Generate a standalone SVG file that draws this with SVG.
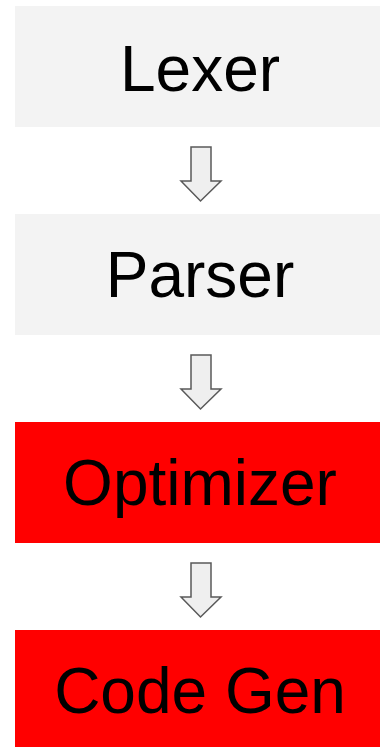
<svg xmlns="http://www.w3.org/2000/svg" width="380" height="747" viewBox="0 0 380 747">
<style>
.gray{fill:#f3f3f3}
.red{fill:#ff0000}
.lbl{font-family:"Liberation Sans",Arial,sans-serif;font-size:64px;fill:#000;text-anchor:middle}
.arr{fill:#efefef;stroke:#595959;stroke-width:1.5;stroke-linejoin:miter}
</style>
<rect width="380" height="747" fill="#ffffff"/>
<g id="lexer"><rect class="gray" x="15" y="6" width="370" height="121"/><text class="lbl" x="200" y="91">Lexer</text></g>
<g id="parser"><rect class="gray" x="15" y="214" width="370" height="121"/><text class="lbl" x="200" y="297">Parser</text></g>
<g id="optimizer"><rect class="red" x="15" y="422" width="370" height="121"/><text class="lbl" x="200" y="505">Optimizer</text></g>
<g id="codegen"><rect class="red" x="15" y="630" width="370" height="121"/><text class="lbl" x="200" y="713">Code Gen</text></g>
<g id="connectors">
<path class="arr" d="M191,147 H211 V181 H221 L200.5,201 L181,181 H191 Z"/>
<path class="arr" d="M191,355 H211 V389 H221 L200.5,409 L181,389 H191 Z"/>
<path class="arr" d="M191,563 H211 V597 H221 L200.5,617 L181,597 H191 Z"/>
</g>
</svg>
